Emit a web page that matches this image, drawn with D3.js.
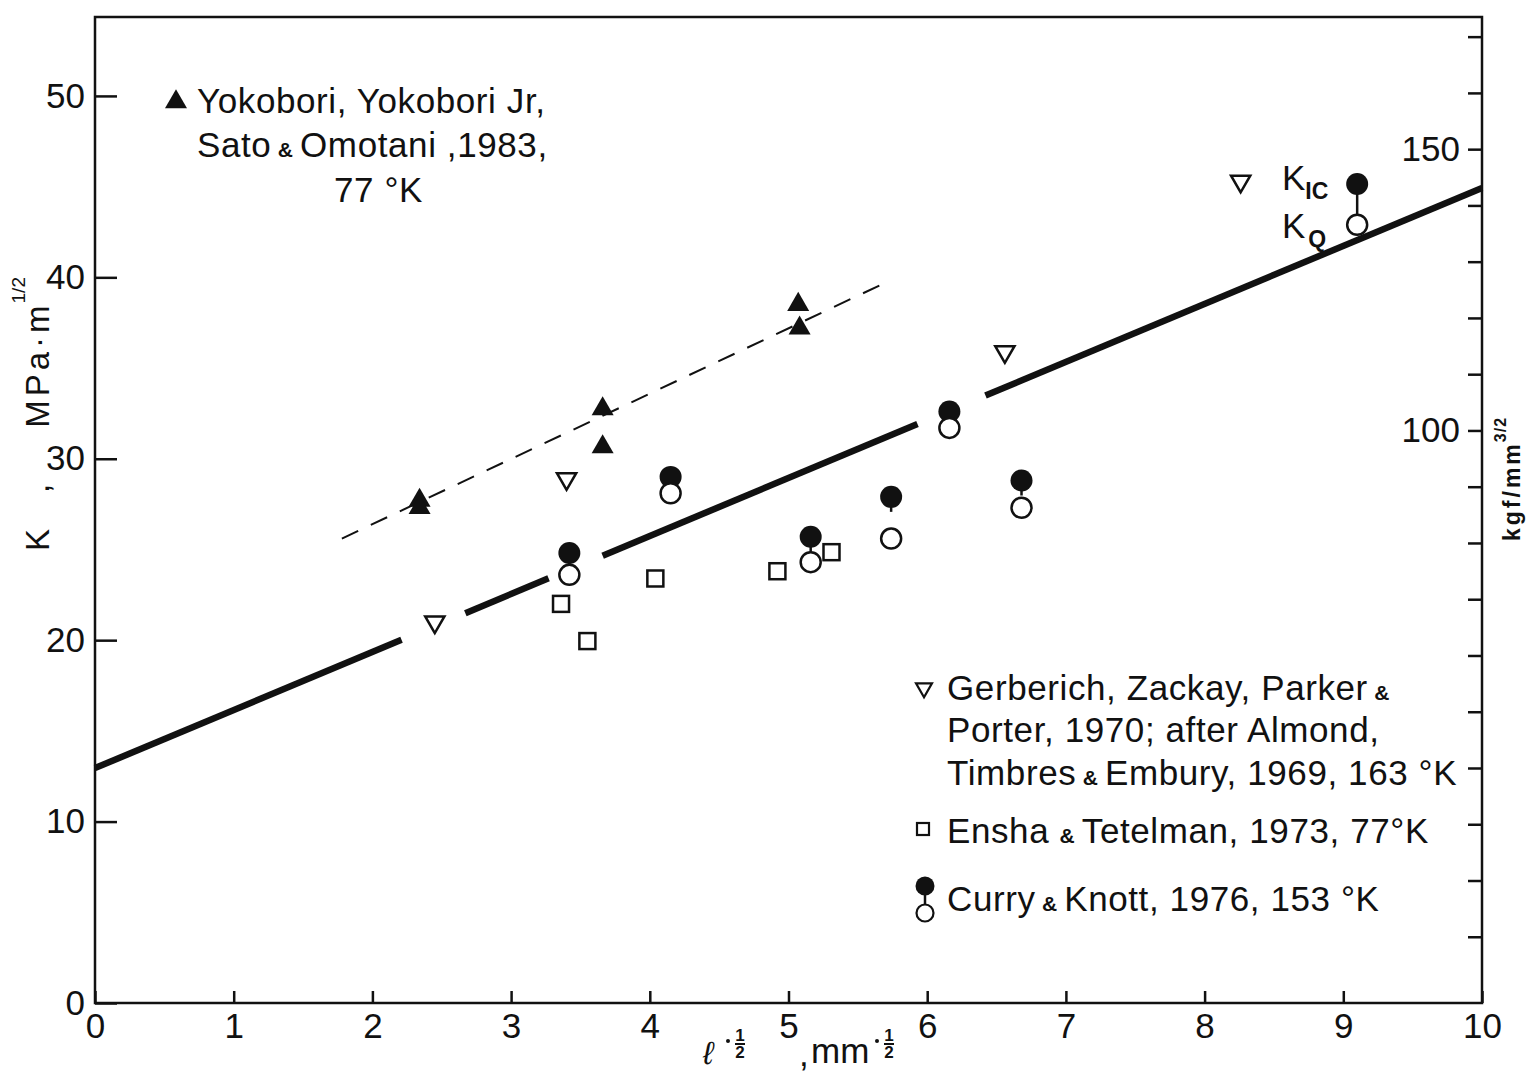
<!DOCTYPE html>
<html>
<head>
<meta charset="utf-8">
<script src="https://cdn.jsdelivr.net/npm/d3@7"></script>
<style>
  body { margin: 0; background: #fff; }
  svg { display: block; }
  text { font-family: "Liberation Sans", Arial, sans-serif; fill: #111; }
</style>
</head>
<body>
<div id="chart"></div>
<script>
// axis ticks
const xTicks = [0, 1, 2, 3, 4, 5, 6, 7, 8, 9, 10]
const yTicks = [0, 10, 20, 30, 40, 50]
const kgfTicks = [10, 20, 30, 40, 50, 60, 70, 80, 90, 100, 110, 120, 130, 140, 150, 160, 170]
const kgfLabelled = [100, 150]

// Yokobori, Yokobori Jr, Sato & Omotani 1983 (filled triangles)
const yokoboriX = [2.34, 2.34, 3.66, 3.66, 5.07, 5.08]
const yokoboriK = [27.7, 27.3, 32.75, 30.65, 38.5, 37.2]

// Gerberich et al. 1970 (open down triangles)
const gerberichX = [2.45, 3.40, 6.56, 8.26]
const gerberichK = [21.0, 28.9, 35.9, 45.3]

// Ensha & Tetelman 1973 (open squares)
const enshaX = [3.36, 3.55, 4.04, 4.92, 5.31]
const enshaK = [22.0, 19.95, 23.4, 23.8, 24.85]

// Curry & Knott 1976: K_IC filled, K_Q open; joined = full stem drawn
const curryX = [3.42, 4.15, 5.16, 5.74, 6.16, 6.68, 9.10]
const curryKIC = [24.8, 29.0, 25.7, 27.9, 32.6, 28.8, 45.15]
const curryKQ = [23.6, 28.1, 24.3, 25.6, 31.7, 27.3, 42.9]
const curryJoined = [false, false, false, false, false, false, true]

// solid fit line K = a + b x, drawn in pieces (gaps round the symbols)
const fitIntercept = 12.95
const fitSlope = 3.198
const fitPieces = [[0, 2.21], [2.67, 3.27], [3.66, 5.93], [6.42, 10]]

// dashed line through the 77 K data
const dashX = [1.78, 5.67]
const dashK = [25.6, 39.6]

// right axis: kgf/mm^3/2 as drawn on the figure (K = kgfFactor*kgf + kgfOffset)
const kgfFactor = 0.3101
const kgfOffset = 0.55

const width = 1528, height = 1072
const plotLeft = 95, plotRight = 1482, plotTop = 17, plotBottom = 1003
const kTop = 54.35

const x = d3.scaleLinear([0, 10], [plotLeft, plotRight])
const y = d3.scaleLinear([0, kTop], [plotBottom, plotTop])
const yK = d3.scaleLinear([(0 - kgfOffset) / kgfFactor, (kTop - kgfOffset) / kgfFactor], [plotBottom, plotTop])

const svg = d3.select("#chart").append("svg")
    .attr("width", width)
    .attr("height", height)
    .attr("viewBox", [0, 0, width, height])

svg.append("rect").attr("width", width).attr("height", height).attr("fill", "#fff")

const fontSize = 35
const tickFont = 35

// frame
svg.append("rect")
    .attr("x", plotLeft).attr("y", plotTop)
    .attr("width", plotRight - plotLeft).attr("height", plotBottom - plotTop)
    .attr("fill", "none").attr("stroke", "#111").attr("stroke-width", 2.5)

function styleAxis(g) {
  g.select(".domain").remove()
  g.selectAll(".tick line").attr("stroke", "#111").attr("stroke-width", 2.5)
  g.selectAll(".tick text").attr("font-size", tickFont).attr("fill", "#111")
    .attr("font-family", '"Liberation Sans", Arial, sans-serif')
}

svg.append("g")
    .attr("transform", `translate(0,${plotBottom})`)
    .call(d3.axisBottom(x).tickValues(xTicks).tickSize(-12).tickPadding(10))
    .call(styleAxis)

svg.append("g")
    .attr("transform", `translate(${plotLeft},0)`)
    .call(d3.axisLeft(y).tickValues(yTicks).tickSize(-22).tickPadding(10))
    .call(styleAxis)

svg.append("g")
    .attr("transform", `translate(${plotRight},0)`)
    .call(d3.axisLeft(yK).tickValues(kgfTicks).tickSize(14).tickPadding(8)
      .tickFormat(d => kgfLabelled.includes(d) ? d : ""))
    .call(styleAxis)

// fit line
const line = d3.line().x(d => x(d[0])).y(d => y(d[1]))
fitPieces.forEach(p => {
  svg.append("path")
      .attr("fill", "none")
      .attr("stroke", "#111")
      .attr("stroke-width", 6.5)
      .attr("d", line(p.map(v => [v, fitIntercept + fitSlope * v])))
})

svg.append("path")
    .attr("fill", "none")
    .attr("stroke", "#111")
    .attr("stroke-width", 2)
    .attr("stroke-dasharray", "18 14")
    .attr("d", line(dashX.map((v, i) => [v, dashK[i]])))

const tri = d3.symbol(d3.symbolTriangle, 210)
const triOpen = d3.symbol(d3.symbolTriangle, 160)

// Curry & Knott stems, filled, open
const curry = curryX.map((v, i) => ({x: v, ic: curryKIC[i], q: curryKQ[i], joined: curryJoined[i]}))
svg.append("g").selectAll("line").data(curry).join("line")
    .attr("x1", d => x(d.x)).attr("x2", d => x(d.x))
    .attr("y1", d => y(d.ic))
    .attr("y2", d => d.joined ? y(d.q) : y(d.ic) + 15)
    .attr("stroke", "#111").attr("stroke-width", 2.5)
svg.append("g").selectAll("circle").data(curry).join("circle")
    .attr("cx", d => x(d.x)).attr("cy", d => y(d.ic)).attr("r", 11)
    .attr("fill", "#111")
svg.append("g").selectAll("circle").data(curry).join("circle")
    .attr("cx", d => x(d.x)).attr("cy", d => y(d.q)).attr("r", 10)
    .attr("fill", "#fff").attr("stroke", "#111").attr("stroke-width", 2.5)

// Yokobori triangles
svg.append("g").selectAll("path").data(yokoboriX).join("path")
    .attr("transform", (d, i) => `translate(${x(d)},${y(yokoboriK[i])})`)
    .attr("d", tri)
    .attr("fill", "#111")

// Gerberich open down triangles
svg.append("g").selectAll("path").data(gerberichX).join("path")
    .attr("transform", (d, i) => `translate(${x(d)},${y(gerberichK[i])}) rotate(180)`)
    .attr("d", triOpen)
    .attr("fill", "#fff").attr("stroke", "#111").attr("stroke-width", 2.5)

// Ensha squares
svg.append("g").selectAll("rect").data(enshaX).join("rect")
    .attr("x", d => x(d) - 8).attr("y", (d, i) => y(enshaK[i]) - 8)
    .attr("width", 16).attr("height", 16)
    .attr("fill", "#fff").attr("stroke", "#111").attr("stroke-width", 2.5)

// legend text helper: '&' drawn small like the original
function legendLine(tx, ty, parts) {
  const t = svg.append("text").attr("x", tx).attr("y", ty)
      .attr("font-size", fontSize).attr("letter-spacing", 0.6)
  parts.forEach(p => {
    if (p === "&") t.append("tspan").attr("font-size", fontSize * 0.6).attr("font-weight", "bold").text(" & ")
    else t.append("tspan").text(p)
  })
  return t
}

// upper-left legend
svg.append("path").attr("transform", "translate(176,102)").attr("d", tri).attr("fill", "#111")
legendLine(197, 113, ["Yokobori, Yokobori Jr,"])
legendLine(197, 157, ["Sato", "&", "Omotani ,1983,"])
legendLine(334, 202, ["77 °K"])

// lower-right legend
svg.append("path").attr("transform", "translate(924,688) rotate(180)")
    .attr("d", d3.symbol(d3.symbolTriangle, 110)).attr("fill", "#fff")
    .attr("stroke", "#111").attr("stroke-width", 2.2)
legendLine(947, 700, ["Gerberich, Zackay, Parker", "&"])
legendLine(947, 742, ["Porter, 1970; after Almond,"])
legendLine(947, 785, ["Timbres", "&", "Embury, 1969, 163 °K"])
svg.append("rect").attr("x", 917).attr("y", 823).attr("width", 12).attr("height", 12)
    .attr("fill", "#fff").attr("stroke", "#111").attr("stroke-width", 2.2)
legendLine(947, 843, ["Ensha ", "&", "Tetelman, 1973, 77°K"])
svg.append("line").attr("x1", 925).attr("x2", 925).attr("y1", 886).attr("y2", 912)
    .attr("stroke", "#111").attr("stroke-width", 2.5)
svg.append("circle").attr("cx", 925).attr("cy", 886).attr("r", 9.5).attr("fill", "#111")
svg.append("circle").attr("cx", 925).attr("cy", 913).attr("r", 8.5)
    .attr("fill", "#fff").attr("stroke", "#111").attr("stroke-width", 2.2)
legendLine(947, 911, ["Curry", "&", "Knott, 1976, 153 °K"])

// K_IC / K_Q annotation
const kic = svg.append("text").attr("x", 1282).attr("y", 190).attr("font-size", fontSize)
kic.append("tspan").text("K")
kic.append("tspan").attr("font-size", 23).attr("font-weight", "bold").attr("dy", 9).text("IC")
const kq = svg.append("text").attr("x", 1282).attr("y", 238).attr("font-size", fontSize)
kq.append("tspan").text("K")
kq.append("tspan").attr("font-size", 23).attr("font-weight", "bold").attr("dx", 3).attr("dy", 9).text("Q")

// stacked 1/2 fraction used in the labels
function half(g, cx, cy, size) {
  g.append("text").attr("x", cx).attr("y", cy - 3).attr("font-size", size)
      .attr("font-weight", "bold").attr("text-anchor", "middle").text("1")
  g.append("line").attr("x1", cx - 5).attr("x2", cx + 5).attr("y1", cy).attr("y2", cy)
      .attr("stroke", "#111").attr("stroke-width", 2)
  g.append("text").attr("x", cx).attr("y", cy + size * 0.85).attr("font-size", size)
      .attr("font-weight", "bold").attr("text-anchor", "middle").text("2")
}

// x label
const xl = svg.append("g")
xl.append("text").attr("x", 703).attr("y", 1064).attr("font-size", 32).attr("font-style", "italic").text("ℓ")
xl.append("circle").attr("cx", 728).attr("cy", 1041).attr("r", 2).attr("fill", "#111")
half(xl, 740, 1044, 17)
xl.append("text").attr("x", 799).attr("y", 1066).attr("font-size", fontSize).text(",")
xl.append("text").attr("x", 811).attr("y", 1063).attr("font-size", fontSize).text("mm")
xl.append("circle").attr("cx", 877).attr("cy", 1041).attr("r", 2).attr("fill", "#111")
half(xl, 889, 1044, 17)

// y label
const yl = svg.append("text")
    .attr("transform", "translate(49,551) rotate(-90)")
    .attr("font-size", 33)
yl.append("tspan").text("K")
yl.append("tspan").attr("dx", 36).text(",")
yl.append("tspan").attr("dx", 56).attr("letter-spacing", 4).text("MPa·m")
yl.append("tspan").attr("font-size", 19).attr("dy", -24).attr("dx", -2).text("1/2")

// right axis label
const rl = svg.append("text")
    .attr("transform", "translate(1520,541) rotate(-90)")
    .attr("font-size", 23).attr("font-weight", "bold").attr("letter-spacing", 3)
rl.append("tspan").text("kgf/mm")
rl.append("tspan").attr("font-size", 16).attr("letter-spacing", 1).attr("dy", -14).attr("dx", -1).text("3/2")
</script>
</body>
</html>
